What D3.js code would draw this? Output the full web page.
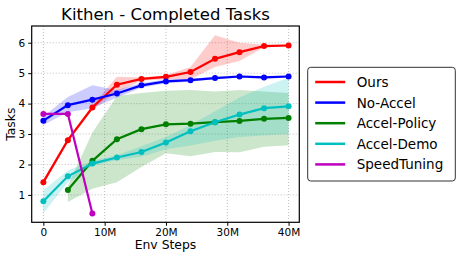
<!DOCTYPE html>
<html>
<head>
<meta charset="utf-8">
<script src="https://cdn.jsdelivr.net/npm/d3@7"></script>
<style>
  body { margin: 0; background: #fff; }
  svg { font-family: "DejaVu Sans", sans-serif; display: block; }
</style>
</head>
<body>
<div id="chart"></div>
<script>
// env steps (millions)
const steps = [0, 4, 8, 12, 16, 20, 24, 28, 32, 36, 40];
const xTicks = [0, 10, 20, 30, 40];
const xTickLabels = ["0", "10M", "20M", "30M", "40M"];
const yTicks = [1, 2, 3, 4, 5, 6];
const seriesNames = ["Ours", "No-Accel", "Accel-Policy", "Accel-Demo", "SpeedTuning"];
const seriesColors = ["#ff0000", "#0000ff", "#008000", "#00bfbf", "#bf00bf"];

const oursMean  = [1.42, 2.80, 3.87, 4.62, 4.81, 4.88, 5.04, 5.47, 5.69, 5.89, 5.91];
const oursUpper = [1.50, 2.88, 3.95, 4.88, 4.86, 4.93, 5.20, 6.25, 6.00, 5.93, 5.95];
const oursLower = [1.34, 2.72, 3.80, 4.38, 4.75, 4.80, 4.80, 5.20, 5.40, 5.85, 5.87];

const noAccelMean  = [3.44, 3.95, 4.13, 4.33, 4.60, 4.73, 4.77, 4.84, 4.89, 4.86, 4.89];
const noAccelUpper = [3.58, 4.22, 4.60, 4.45, 4.68, 4.79, 4.82, 4.88, 4.93, 4.90, 4.93];
const noAccelLower = [3.30, 3.72, 3.85, 4.20, 4.52, 4.67, 4.72, 4.80, 4.85, 4.82, 4.85];

const policyMean  = [null, 1.16, 2.12, 2.83, 3.16, 3.32, 3.34, 3.39, 3.43, 3.50, 3.53];
const policyUpper = [null, 1.30, 3.05, 4.25, 4.35, 4.42, 4.45, 4.40, 4.45, 4.40, 4.35];
const policyLower = [null, 0.77, 1.20, 1.42, 1.92, 2.37, 2.27, 2.41, 2.40, 2.58, 2.63];

const demoMean  = [0.79, 1.61, 2.03, 2.23, 2.41, 2.72, 3.09, 3.39, 3.64, 3.85, 3.91];
const demoUpper = [1.15, 1.80, 2.12, 2.30, 2.60, 2.90, 3.30, 3.75, 4.20, 4.55, 4.85];
const demoLower = [0.40, 1.42, 1.95, 2.15, 2.25, 2.50, 2.62, 2.78, 2.90, 2.95, 3.00];

const speedMean = [3.66, 3.66, 0.39, null, null, null, null, null, null, null, null];

const means = [oursMean, noAccelMean, policyMean, demoMean, speedMean];
const uppers = [oursUpper, noAccelUpper, policyUpper, demoUpper, null];
const lowers = [oursLower, noAccelLower, policyLower, demoLower, null];

const W = 457, H = 258;
const m = { left: 31.7, right: 299.3, top: 26, bottom: 222.3 };

const svg = d3.select("#chart").append("svg").attr("width", W).attr("height", H);

const x = d3.scaleLinear().domain([-1.9, 41.75]).range([m.left, m.right]);
const y = d3.scaleLinear().domain([0.1, 6.55]).range([m.bottom, m.top]);

// grid
const grid = svg.append("g").attr("stroke", "#b0b0b0").attr("stroke-width", 0.8).attr("stroke-dasharray", "1,2");
xTicks.forEach(t => grid.append("line").attr("x1", x(t)).attr("x2", x(t)).attr("y1", m.top).attr("y2", m.bottom));
yTicks.forEach(t => grid.append("line").attr("x1", m.left).attr("x2", m.right).attr("y1", y(t)).attr("y2", y(t)));

const plot = svg.append("g");

// bands
means.forEach((mean, i) => {
    if (!uppers[i]) return;
    const pts = steps.map((s, j) => ({ s, lo: lowers[i][j], hi: uppers[i][j] })).filter(d => d.lo != null);
    const area = d3.area().x(d => x(d.s)).y0(d => y(d.lo)).y1(d => y(d.hi));
    plot.append("path").attr("d", area(pts)).attr("fill", seriesColors[i]).attr("fill-opacity", 0.2);
});

// lines + markers
means.forEach((mean, i) => {
    const pts = steps.map((s, j) => ({ s, v: mean[j] })).filter(d => d.v != null);
    const line = d3.line().x(d => x(d.s)).y(d => y(d.v));
    plot.append("path").attr("d", line(pts)).attr("fill", "none")
        .attr("stroke", seriesColors[i]).attr("stroke-width", 2.2);
    plot.selectAll(null).data(pts).enter().append("circle")
        .attr("cx", d => x(d.s)).attr("cy", d => y(d.v)).attr("r", 3)
        .attr("fill", seriesColors[i]);
});

// axes
const xAxis = d3.axisBottom(x).tickValues(xTicks).tickFormat((d, i) => xTickLabels[i]).tickSize(3.5).tickPadding(3);
const yAxis = d3.axisLeft(y).tickValues(yTicks).tickFormat(d3.format("d")).tickSize(3.5).tickPadding(3);
const gx = svg.append("g").attr("transform", `translate(0,${m.bottom})`).call(xAxis);
const gy = svg.append("g").attr("transform", `translate(${m.left},0)`).call(yAxis);
[gx, gy].forEach(g => {
    g.select(".domain").remove();
    g.selectAll("text").attr("font-size", 10.5).attr("fill", "#000").attr("font-family", "DejaVu Sans");
    g.selectAll("line").attr("stroke", "#000");
});

svg.append("rect").attr("x", m.left).attr("y", m.top)
    .attr("width", m.right - m.left).attr("height", m.bottom - m.top)
    .attr("fill", "none").attr("stroke", "#000").attr("stroke-width", 1.2);

// labels
svg.append("text").attr("x", (m.left + m.right) / 2).attr("y", 20)
    .attr("text-anchor", "middle").attr("font-size", 16.5).text("Kithen - Completed Tasks");
svg.append("text").attr("x", (m.left + m.right) / 2).attr("y", 249)
    .attr("text-anchor", "middle").attr("font-size", 12.4).text("Env Steps");
svg.append("text").attr("transform", `translate(15,${(m.top + m.bottom) / 2}) rotate(-90)`)
    .attr("text-anchor", "middle").attr("font-size", 12.4).text("Tasks");

// legend
const legend = svg.append("g").attr("transform", "translate(307.7,67.3)");
legend.append("rect").attr("width", 147.6).attr("height", 113.7).attr("rx", 3)
    .attr("fill", "#fff").attr("stroke", "#333").attr("stroke-width", 1);
seriesNames.forEach((name, i) => {
    const row = legend.append("g").attr("transform", `translate(0,${14.7 + i * 20.6})`);
    row.append("line").attr("x1", 7.5).attr("x2", 37.5).attr("y1", 0).attr("y2", 0)
        .attr("stroke", seriesColors[i]).attr("stroke-width", 2.5);
    row.append("text").attr("x", 49).attr("y", 5).attr("font-size", 13.5).text(name);
});
</script>
</body>
</html>
